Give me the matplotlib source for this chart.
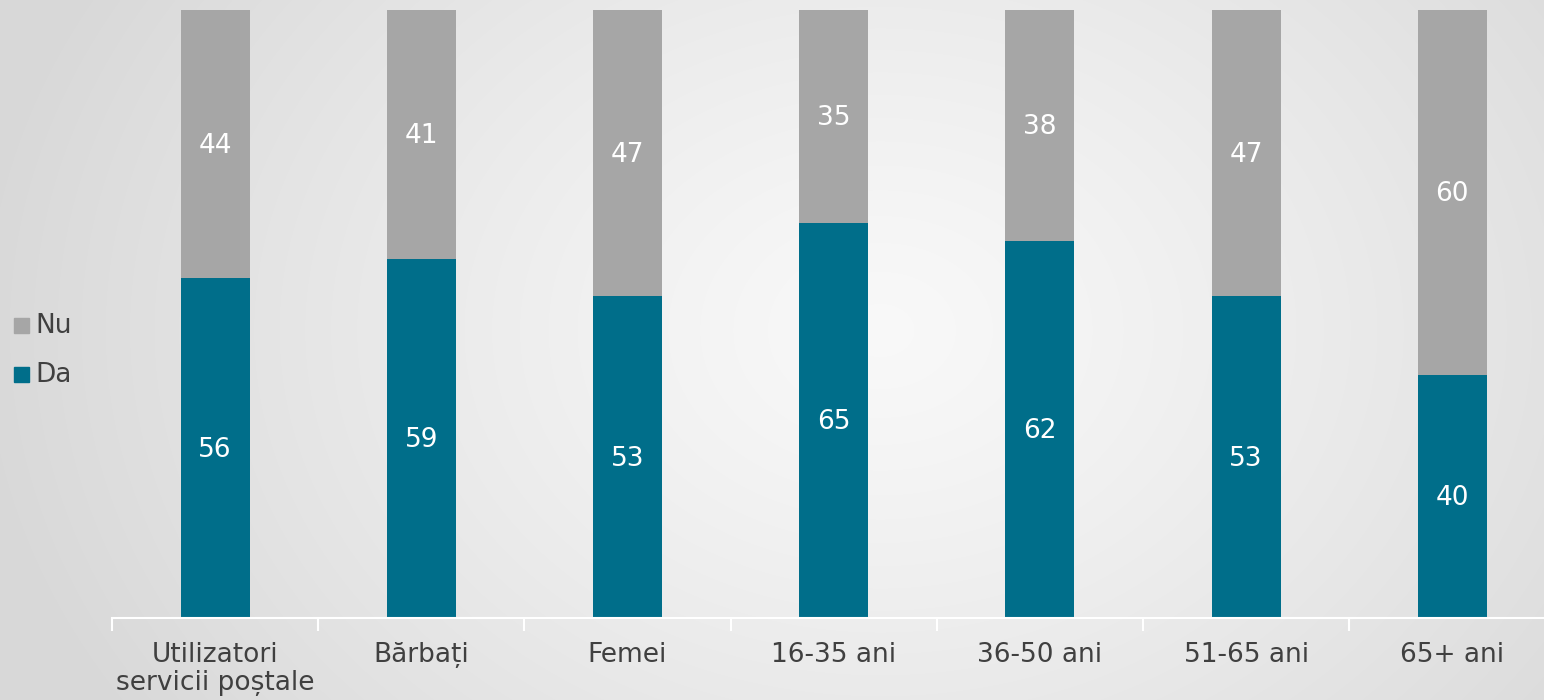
import matplotlib
matplotlib.use("Agg")
import matplotlib.pyplot as plt
import numpy as np
from matplotlib.patches import Rectangle

plt.rcParams['font.family'] = ['DejaVu Sans']

categories = ["Utilizatori\nservicii poștale", "Bărbați", "Femei", "16-35 ani",
              "36-50 ani", "51-65 ani", "65+ ani"]
da = [56, 59, 53, 65, 62, 53, 40]
nu = [44, 41, 47, 35, 38, 47, 60]

c_da = "#006E8A"
c_nu = "#A6A6A6"
txt = "#404040"
fs = 19

W, H = 1544, 700
fig = plt.figure(figsize=(W / 100, H / 100), dpi=100)

# background radial gradient
bg = fig.add_axes([0, 0, 1, 1], zorder=-10)
yy, xx = np.mgrid[0:H, 0:W]
cx, cy = 880, 330
r = np.sqrt(((xx - cx) / 900.0) ** 2 + ((yy - cy) / 700.0) ** 2)
r = np.clip(r, 0, 1)
val = 0.975 - (0.975 - 0.85) * r ** 1.2
img = np.dstack([val, val, val])
bg.imshow(img, aspect="auto", extent=[0, 1, 0, 1], origin="upper")
bg.axis("off")

left, right = 112, 1544
top, bottom = 10, 618
ax = fig.add_axes([left / W, 1 - bottom / H, (right - left) / W, (bottom - top) / H])
ax.patch.set_alpha(0)
step = 206.2

x = np.arange(len(categories))
bw = 69 / step
ax.bar(x, da, width=bw, color=c_da, label="Da")
ax.bar(x, nu, width=bw, bottom=da, color=c_nu, label="Nu")
for i in range(len(categories)):
    ax.text(x[i], da[i] / 2 - 0.3, str(da[i]), ha="center", va="center", color="white", fontsize=fs)
    ax.text(x[i], da[i] + nu[i] / 2 - 0.3, str(nu[i]), ha="center", va="center", color="white", fontsize=fs)

for s in ["top", "right", "left"]:
    ax.spines[s].set_visible(False)
ax.spines["bottom"].set_color("white")
ax.spines["bottom"].set_linewidth(1.5)
ax.set_yticks([])
ax.set_xticks(np.arange(len(categories) + 1) - 0.5, minor=False)
ax.set_xticklabels([])
ax.tick_params(axis="x", which="major", length=9, width=1.5, color="white")
ax.set_xticks(x, minor=True)
ax.set_xticklabels(categories, minor=True, fontsize=fs, color=txt, linespacing=1.1)
ax.tick_params(axis="x", which="minor", length=0, pad=17)
ax.set_xlim(-0.5, -0.5 + (right - left) / step)
ax.set_ylim(0, 100)

# legend
lx = 14
for yc, lab, col in [(325.5, "Nu", c_nu), (374.5, "Da", c_da)]:
    fig.patches.append(Rectangle((lx / W, 1 - (yc + 7.5) / H), 15 / W, 15 / H,
                                 transform=fig.transFigure, color=col))
    fig.text(35 / W, 1 - yc / H, lab, fontsize=fs, color=txt, va="center", ha="left")

fig.savefig("out.png", dpi=100)
